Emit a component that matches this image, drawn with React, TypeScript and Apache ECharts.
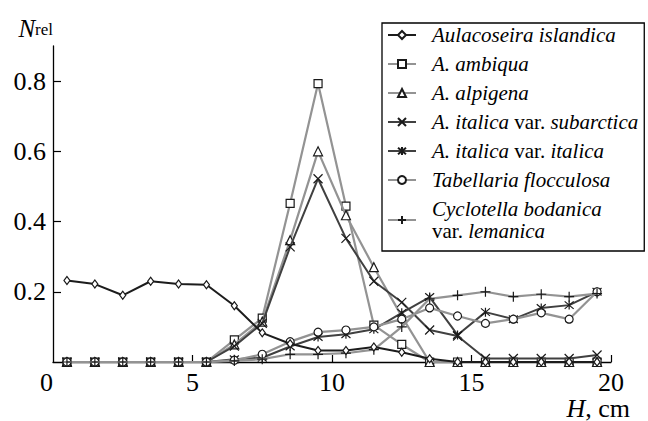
import React, { useEffect, useRef } from 'react';
import * as echarts from 'echarts';

// Depth (cm) of each sample
const depthH = [0.5, 1.5, 2.5, 3.5, 4.5, 5.5, 6.5, 7.5, 8.5, 9.5, 10.5, 11.5, 12.5, 13.5, 14.5, 15.5, 16.5, 17.5, 18.5, 19.5];

const seriesNames = [
  'Aulacoseira islandica',
  'A. ambiqua',
  'A. alpigena',
  'A. italica var. subarctica',
  'A. italica var. italica',
  'Tabellaria flocculosa',
  'Cyclotella bodanica var. lemanica',
];

const aulacoseiraIslandica = [0.232, 0.222, 0.19, 0.23, 0.222, 0.22, 0.16, 0.083, 0.052, 0.033, 0.033, 0.043, 0.028, 0.009, 0, 0, 0, 0, 0, 0];
const aAmbiqua = [0, 0, 0, 0, 0, 0, 0.063, 0.125, 0.452, 0.793, 0.444, 0.105, 0.05, 0, 0, 0, 0, 0, 0, 0];
const aAlpigena = [0, 0, 0, 0, 0, 0, 0.05, 0.115, 0.347, 0.6, 0.418, 0.27, 0.13, 0, 0, 0, 0, 0, 0, 0];
const aItalicaSubarctica = [0, 0, 0, 0, 0, 0, 0.045, 0.11, 0.328, 0.522, 0.352, 0.23, 0.17, 0.091, 0.074, 0.01, 0.01, 0.01, 0.01, 0.02];
const aItalicaItalica = [0, 0, 0, 0, 0, 0, 0.008, 0.012, 0.044, 0.071, 0.079, 0.093, 0.14, 0.185, 0.077, 0.142, 0.122, 0.154, 0.162, 0.2];
const tabellariaFlocculosa = [0, 0, 0, 0, 0, 0, 0.005, 0.022, 0.058, 0.085, 0.091, 0.1, 0.122, 0.154, 0.131, 0.11, 0.122, 0.14, 0.122, 0.2];
const cyclotellaBodanica = [0, 0, 0, 0, 0, 0, 0.003, 0.008, 0.022, 0.022, 0.025, 0.035, 0.1, 0.18, 0.19, 0.2, 0.186, 0.193, 0.186, 0.195];

const yTickValues = [0.2, 0.4, 0.6, 0.8];
const xTickValues = [5, 10, 15, 20];

const FONT = 'Liberation Serif';

const legendText: Record<string, string> = {
  'Aulacoseira islandica': '{i|Aulacoseira islandica}',
  'A. ambiqua': '{i|A. ambiqua}',
  'A. alpigena': '{i|A. alpigena}',
  'A. italica var. subarctica': '{i|A. italica} {n|var.} {i|subarctica}',
  'A. italica var. italica': '{i|A. italica} {n|var.} {i|italica}',
  'Tabellaria flocculosa': '{i|Tabellaria flocculosa}',
  'Cyclotella bodanica var. lemanica': '{i|Cyclotella bodanica}\n{n|var.} {i|lemanica}',
};

const X_PATH = 'path://M0 0L10 10M10 0L0 10';
const AST_PATH = 'path://M0 0L10 10M10 0L0 10M5 -1L5 11';
const PLUS_PATH = 'path://M5 0L5 10M0 5L10 5';

export default function App() {
  const ref = useRef<HTMLDivElement>(null);
  useEffect(() => {
    const chart = echarts.init(ref.current!, null, { renderer: 'svg' });
    const black = '#1c1c1c';
    const gray = '#939393';
    const dark = '#404040';
    const tickRich = { t: { fontFamily: FONT, fontSize: 26, color: '#000' } };
    const mk = (name: string, values: number[], lineColor: string, symbol: string, size: any, lw: number, z: number) => ({
      name,
      type: 'line',
      data: depthH.map((h, i) => [h, values[i]]),
      symbol,
      symbolSize: size,
      showAllSymbol: true,
      z,
      lineStyle: { color: lineColor, width: lw },
      itemStyle: { color: '#fff', borderColor: '#1a1a1a', borderWidth: 1.2 },
      emphasis: { disabled: true },
    });
    const series = [
      mk(seriesNames[0], aulacoseiraIslandica, black, 'diamond', [6, 8], 2, 9),
      mk(seriesNames[1], aAmbiqua, gray, 'rect', 8, 2.2, 3),
      mk(seriesNames[2], aAlpigena, gray, 'triangle', 9, 2.2, 4),
      mk(seriesNames[3], aItalicaSubarctica, dark, X_PATH, 9, 2, 6),
      mk(seriesNames[4], aItalicaItalica, dark, AST_PATH, 9, 2, 5),
      mk(seriesNames[5], tabellariaFlocculosa, gray, 'circle', 8, 2.2, 7),
      mk(seriesNames[6], cyclotellaBodanica, gray, PLUS_PATH, 10, 2.2, 8),
    ];
    const option: any = {
      animation: false,
      backgroundColor: '#fff',
      grid: { left: 53, right: 37, top: 46, bottom: 59, containLabel: false, outerBoundsMode: 'none' },
      legend: {
        orient: 'vertical',
        left: 382,
        top: 23,
        data: seriesNames,
        backgroundColor: '#fff',
        borderColor: '#000',
        borderWidth: 1.3,
        padding: [1, 6, 9, 5],
        itemGap: 7,
        itemWidth: 28,
        itemHeight: 10,
        selectedMode: false,
        formatter: (name: string) => legendText[name] || name,
        textStyle: {
          color: '#000',
          fontFamily: FONT,
          fontSize: 21,
          lineHeight: 22,
          padding: [0, 0, 0, 11],
          rich: {
            i: { fontFamily: FONT, fontStyle: 'italic', fontSize: 21, lineHeight: 22, color: '#000' },
            n: { fontFamily: FONT, fontStyle: 'normal', fontSize: 21, lineHeight: 22, color: '#000' },
          },
        },
      },
      graphic: [
        {
          type: 'text',
          right: 18,
          top: 395,
          style: {
            text: '{h|H}{c|, cm}',
            fontFamily: FONT,
            fontSize: 26,
            fill: '#000',
            rich: {
              h: { fontFamily: FONT, fontStyle: 'italic', fontSize: 26, color: '#000' },
              c: { fontFamily: FONT, fontSize: 26, color: '#000' },
            },
          },
        },
      ],
      xAxis: {
        type: 'value',
        min: 0,
        max: 20,
        interval: 5,
        axisLine: { onZero: false, lineStyle: { color: '#000', width: 1.3 } },
        axisTick: { inside: true, length: 7, customValues: xTickValues, lineStyle: { color: '#000', width: 1.2 } },
        axisLabel: {
          margin: 7,
          fontFamily: FONT,
          fontSize: 26,
          color: '#000',
          alignMinLabel: 'right',
          formatter: (v: number) => `{t|${v}}`,
          rich: tickRich,
        },
        splitLine: { show: false },
      },
      yAxis: {
        type: 'value',
        min: 0,
        max: 0.9,
        interval: 0.2,
        name: '{n|N}{s|rel}',
        nameLocation: 'end',
        nameGap: 8,
        nameTextStyle: {
          align: 'right',
          color: '#000',
          fontFamily: FONT,
          rich: {
            n: { fontFamily: FONT, fontStyle: 'italic', fontSize: 25, lineHeight: 22, padding: [0, 0, 8, 0], verticalAlign: 'top', color: '#000' },
            s: { fontFamily: FONT, fontSize: 17, lineHeight: 14, verticalAlign: 'bottom', color: '#000' },
          },
        },
        axisLine: { show: true, onZero: false, lineStyle: { color: '#000', width: 1.3 } },
        axisTick: { show: true, inside: true, length: 8, customValues: yTickValues, lineStyle: { color: '#000', width: 1.2 } },
        axisLabel: {
          showMinLabel: false,
          showMaxLabel: false,
          margin: 7,
          fontFamily: FONT,
          fontSize: 26,
          color: '#000',
          formatter: (v: number) => (v > 0.05 && v < 0.85 ? `{t|${v.toFixed(1)}}` : ''),
          rich: tickRich,
        },
        splitLine: { show: false },
      },
      series,
    };
    chart.setOption(option);
    return () => chart.dispose();
  }, []);
  return <div ref={ref} style={{ position: 'fixed', left: 0, top: 0, width: 648, height: 421, background: '#fff' }} />;
}
